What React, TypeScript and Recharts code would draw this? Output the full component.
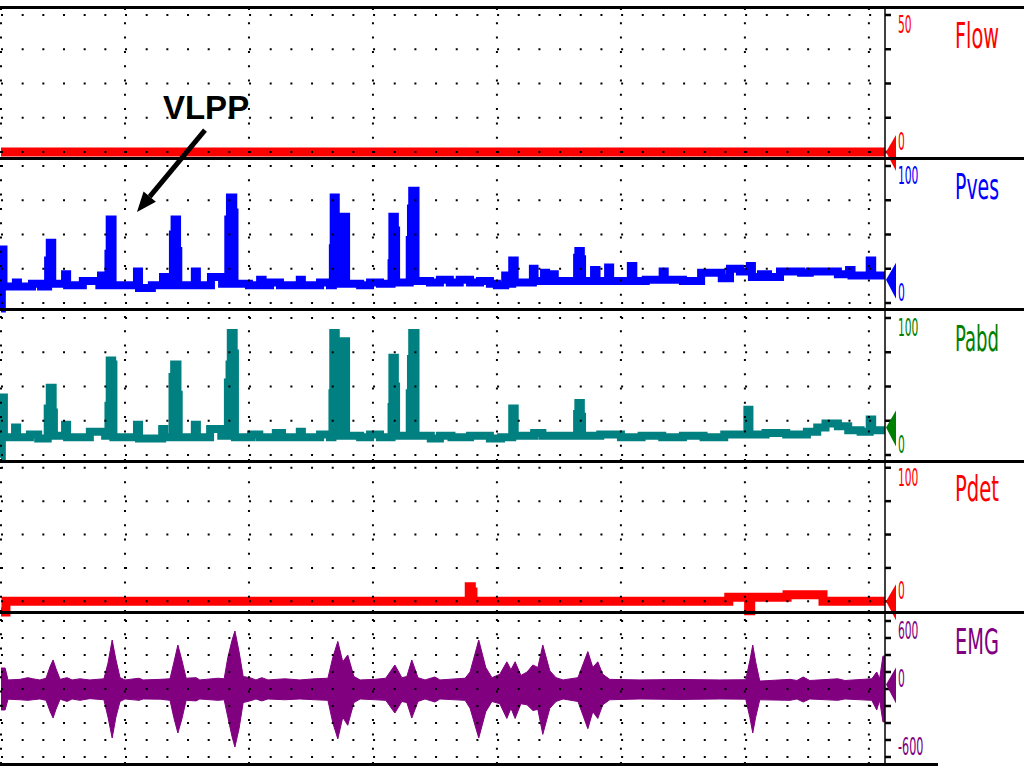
import React from "react";
import {
  ComposedChart,
  Line,
  Area,
  XAxis,
  YAxis,
  CartesianGrid,
  ReferenceLine,
  ReferenceDot,
} from "recharts";

// ---- time axis (seconds) ----
const T_MAX = 213.9;
const MAJOR_TIMES = [0, 30, 60, 90, 120, 150, 180, 210];
const MINOR_TIMES = [
  0, 5, 10, 15, 20, 25, 30, 35, 40, 45, 50, 55, 60, 65, 70, 75, 80, 85, 90, 95, 100,
  105, 110, 115, 120, 125, 130, 135, 140, 145, 150, 155, 160, 165, 170, 175, 180, 185,
  190, 195, 200, 205, 210,
];

// ---- value axes ----
const FLOW_TICKS = [0, 12.5, 25, 37.5, 50];
const PRESSURE_TICKS = [0, 25, 50, 75, 100];
const EMG_TICKS = [-600, -450, -300, -150, 0, 150, 300, 450, 600];
const FLOW_LABELS = [0, 50];
const PRESSURE_LABELS = [0, 100];
const EMG_LABELS = [-600, 0, 600];

// ---- series: [time s, value] ----
const FLOW: [number, number][] = [
  [0, 0],
  [213.9, 0],
];

const PVES: [number, number][] = [
  [0, -4], [0.2, 39], [0.6, 12], [3.6, 15], [4.1, 12], [7.5, 14], [9.7, 12],
  [11.4, 31], [11.8, 44], [12.4, 14], [15.5, 21], [16.0, 13], [19.8, 16], [23.8, 13],
  [24.2, 20], [24.7, 13], [26.0, 36], [26.3, 61], [27.0, 13], [32.9, 23], [33.4, 11],
  [36.5, 13], [39.2, 19], [39.7, 13], [41.6, 50], [42.0, 61], [42.6, 38], [42.9, 13],
  [46.9, 23], [47.4, 13], [50.8, 19], [53.5, 14], [55.0, 61], [55.4, 77], [56.2, 66],
  [56.5, 14], [60, 13], [62.7, 17], [63.3, 13], [65.1, 15], [67.5, 13], [72.3, 17],
  [72.8, 13], [77.2, 15], [79.6, 13], [80.3, 40], [80.5, 77], [81.0, 14], [82.9, 63],
  [83.5, 14], [86.9, 13], [89.3, 15], [91.7, 14], [94.5, 29], [94.7, 63], [95.3, 53],
  [95.6, 15], [98.9, 46], [99.2, 69], [99.5, 82], [100.3, 16], [103.8, 15], [106.2, 17],
  [108.6, 15], [111.0, 17], [113.5, 15], [115.9, 16], [118.3, 14], [120.0, 13],
  [122.0, 20], [122.4, 14], [123.7, 31], [124.3, 15], [128.7, 25], [129.1, 16],
  [131.4, 22], [131.9, 16], [133.5, 21], [134.0, 16], [139.4, 33], [139.7, 38],
  [140.3, 32], [140.6, 16], [143.5, 24], [144.1, 16], [146.9, 26], [147.4, 16],
  [152.4, 27], [153.0, 16], [156, 17], [160.1, 23], [160.6, 17], [165, 16], [169.4, 22],
  [174.4, 18], [176.4, 25], [178.8, 23], [181.2, 27], [181.7, 19], [183.9, 21],
  [185.6, 19], [188.5, 23], [193.6, 22], [195.7, 23], [202.5, 21], [205.2, 24],
  [205.8, 20], [210.2, 31], [210.8, 20], [213.9, 20],
];

const PABD: [number, number][] = [
  [0, -2], [0.2, 42], [0.7, 13], [3.4, 20], [3.9, 13], [7, 15], [9, 12],
  [11.3, 34], [11.8, 49], [12.5, 31], [12.8, 14], [15.5, 22], [16.0, 13], [21.5, 17],
  [25.2, 14], [26.0, 36], [26.3, 69], [26.9, 66], [27.2, 13], [32.9, 22], [33.4, 12],
  [39.0, 19], [39.5, 13], [41.5, 57], [41.9, 66], [42.7, 44], [43.0, 13], [46.9, 22],
  [47.4, 13], [50.6, 19], [53.3, 14], [54.9, 53], [55.3, 66], [55.6, 89], [56.3, 74],
  [56.6, 13], [60.5, 15], [62.5, 13], [66.5, 16], [68, 13], [72.3, 17], [72.8, 13],
  [77.2, 15], [79.6, 13], [80.2, 45], [80.4, 89], [81.0, 14], [82.9, 83], [83.5, 14],
  [86.9, 13], [89.3, 15], [91.7, 13], [94.5, 35], [94.7, 71], [95.3, 50], [95.6, 14],
  [98.9, 45], [99.2, 70], [99.5, 89], [100.3, 14], [104, 12], [106.2, 14], [109, 13],
  [113.5, 14], [118.3, 12], [121, 13], [123.7, 34], [124.3, 14], [129, 16], [131, 14],
  [139.4, 30], [139.7, 38], [140.3, 28], [140.6, 14], [145, 15], [150, 13], [155, 14],
  [160, 13], [165, 14], [170, 13], [175, 15], [180.6, 33], [181.1, 15], [185, 16],
  [190, 15], [195, 17], [197.5, 20], [199.5, 23], [202.5, 21], [205, 18], [208, 17],
  [210.2, 26], [210.8, 18], [213.9, 18],
];

const PDET: [number, number][] = [
  [0, -8], [1.2, 0], [113.3, 11], [113.8, 7], [114.2, 0], [176.1, 3], [180.9, -7],
  [181.4, 3], [190.2, 5], [198.9, 0], [213.9, 0],
];

// EMG envelope: [time s, low, high]
const EMG: [number, number, number][] = [
  [0, -185, 185], [1.0, -185, 185], [1.7, -90, 80], [4.6, -95, 85], [6.5, -100, 100],
  [7.7, -95, 90], [9.4, -88, 80], [10.9, -100, 95], [11.9, -200, 200], [12.6, -256, 256],
  [13.3, -180, 180], [14.3, -90, 85], [16.0, -110, 100], [17.2, -88, 80], [19.1, -100, 90],
  [21.5, -85, 80], [24.9, -95, 90], [25.9, -250, 230], [26.9, -432, 432], [27.8, -250, 260],
  [28.8, -110, 100], [30.0, -88, 80], [33.4, -100, 95], [34.4, -88, 80], [38.5, -90, 85],
  [40.9, -100, 90], [41.8, -250, 230], [42.8, -388, 388], [43.8, -260, 250], [44.8, -100, 95],
  [47.2, -105, 100], [48.1, -88, 80], [52.5, -100, 95], [54.0, -95, 90], [54.9, -250, 280],
  [55.9, -420, 430], [56.6, -512, 512], [57.6, -350, 330], [58.6, -120, 110], [60.2, -105, 100],
  [61.7, -88, 80], [63.1, -105, 100], [64.6, -88, 80], [68.7, -95, 90], [72.3, -88, 80],
  [76.0, -95, 90], [79.1, -100, 95], [80.3, -300, 280], [81.5, -440, 420], [82.7, -250, 240],
  [83.9, -320, 300], [85.4, -120, 110], [86.9, -88, 80], [90.5, -95, 85], [93.1, -100, 95],
  [95.3, -212, 212], [97.0, -110, 100], [98.2, -120, 110], [99.4, -256, 256], [100.9, -110, 100],
  [102.6, -88, 80], [105.0, -115, 106], [106.2, -88, 80], [112.3, -100, 95], [113.5, -170, 150],
  [115.6, -432, 432], [117.3, -200, 190], [118.8, -110, 100], [120.7, -130, 130],
  [122.4, -260, 240], [123.4, -170, 170], [124.4, -260, 240], [125.8, -130, 120],
  [127.3, -140, 150], [128.7, -190, 212], [129.9, -180, 190], [131.1, -400, 388],
  [132.8, -170, 160], [134.3, -110, 100], [136.0, -88, 80], [139.6, -110, 100],
  [142.0, -350, 330], [143.2, -200, 190], [144.4, -260, 240], [145.6, -140, 130],
  [147.3, -95, 85], [154.6, -88, 80], [164.3, -92, 84], [173.9, -88, 80], [180.2, -90, 82],
  [181.2, -250, 250], [181.9, -388, 388], [182.6, -250, 240], [183.6, -95, 70],
  [190.9, -100, 85], [192.6, -88, 75], [194.1, -115, 106], [195.7, -88, 75], [202.5, -100, 90],
  [204.2, -88, 75], [210.7, -100, 90], [211.9, -185, 150], [212.6, -100, 90],
  [213.4, -290, 290], [213.9, -290, 290],
];

// current-value markers on the right axis
const MARKER_FLOW = 0;
const MARKER_PVES = 17;
const MARKER_PABD = 20;
const MARKER_PDET = 0;
const MARKER_EMG = 40;

// VLPP annotation point (time, Pves)
const VLPP_T = 32.9;
const VLPP_V = 66.4;

const NARROW = "'Liberation Sans Narrow', 'DejaVu Sans Condensed', 'Liberation Sans', sans-serif";

const toLine = (arr: [number, number][]) => arr.map(([t, v]) => ({ t, v }));
const toRange = (arr: [number, number, number][]) => arr.map(([t, lo, hi]) => ({ t, r: [lo, hi] }));

function makeTick(ticks: number[], labels: number[], color: string, title: string) {
  const topValue = ticks[ticks.length - 1];
  return (props: any) => {
    const { x, y, payload } = props;
    const v = payload.value;
    const isTop = v === topValue;
    const show = labels.includes(v);
    const str = String(v);
    const len = str.startsWith("-") ? 5 + (str.length - 1) * 6.8 : str.length * 6.8;
    return (
      <g>
        {show && (
          <text
            transform={`translate(${x},${isTop ? y + 18 : y - 2}) scale(1,1.35)`}
            fill={color}
            fontSize={18}
            fontFamily={NARROW}
            textLength={len}
            lengthAdjust="spacingAndGlyphs"
          >
            {str}
          </text>
        )}
        {isTop && (
          <text
            transform={`translate(${x + 57},${y + 33}) scale(1,1.5)`}
            fill={color}
            fontSize={24}
            fontFamily={NARROW}
            textLength={44}
            lengthAdjust="spacingAndGlyphs"
          >
            {title}
          </text>
        )}
      </g>
    );
  };
}

const triangle = (color: string) => (props: any) => {
  const { cx, cy } = props;
  return (
    <polygon
      points={`${cx + 1},${cy} ${cx + 11},${cy - 17} ${cx + 11},${cy + 19}`}
      fill={color}
      stroke="none"
    />
  );
};

const VlppArrow = (props: any) => {
  const { cx, cy } = props;
  const ux = 0.638;
  const uy = -0.77;
  const nx = 0.77;
  const ny = 0.638;
  const bx = cx + 20 * ux;
  const by = cy + 20 * uy;
  return (
    <g>
      <line x1={bx} y1={by} x2={cx + 68} y2={cy - 82} stroke="#000" strokeWidth={5} />
      <polygon
        points={`${cx},${cy} ${bx + 8 * nx},${by + 8 * ny} ${bx - 8 * nx},${by - 8 * ny}`}
        fill="#000"
      />
      <text
        x={cx + 26}
        y={cy - 93}
        fontSize={33}
        fontWeight="bold"
        fontFamily="'Liberation Sans', Arial, sans-serif"
        fill="#000"
      >
        VLPP
      </text>
    </g>
  );
};

type PanelProps = {
  top: number;
  height: number;
  data: any[];
  domain: [number, number];
  ticks: number[];
  labels: number[];
  color: string;
  title: string;
  marker: number;
  markerColor: string;
  topAxis?: boolean;
  children?: React.ReactNode;
};

function Panel(p: PanelProps) {
  return (
    <div style={{ position: "absolute", left: 0, top: p.top }}>
      <ComposedChart
        width={1024}
        height={p.height}
        data={p.data}
        margin={{ top: 0, right: 0, bottom: 0, left: 1 }}
      >
        {p.topAxis ? (
          <XAxis
            type="number"
            dataKey="t"
            domain={[0, T_MAX]}
            orientation="top"
            height={8}
            ticks={MINOR_TIMES}
            interval={0}
            tick={false}
            tickSize={7}
            tickLine={{ stroke: "#000", strokeWidth: 1.5 }}
            axisLine={false}
          />
        ) : (
          <XAxis type="number" dataKey="t" domain={[0, T_MAX]} hide />
        )}
        <YAxis
          type="number"
          orientation="right"
          width={139}
          domain={p.domain}
          ticks={p.ticks}
          interval={0}
          tickSize={6}
          tickMargin={7}
          tickLine={{ stroke: "#000", strokeWidth: 2.5 }}
          axisLine={{ stroke: "#000", strokeWidth: 1.5 }}
          tick={makeTick(p.ticks, p.labels, p.color, p.title)}
        />
        {p.children}
        <CartesianGrid
          vertical={false}
          stroke="#000"
          strokeWidth={2}
          strokeDasharray="2 18.67"
          {...({ zIndex: 1000 } as any)}
        />
        {MAJOR_TIMES.map((t) => (
          <ReferenceLine
            key={t}
            x={t}
            stroke="#000"
            strokeWidth={2}
            strokeDasharray="2 12.3"
            {...({ zIndex: 1000 } as any)}
          />
        ))}
        <ReferenceDot
          x={T_MAX}
          y={p.marker}
          r={1}
          ifOverflow="visible"
          shape={triangle(p.markerColor)}
        />
      </ComposedChart>
    </div>
  );
}

const SEPARATORS = [
  { top: 6, width: 1024 },
  { top: 157, width: 1024 },
  { top: 308, width: 1024 },
  { top: 460, width: 1024 },
  { top: 611, width: 1024 },
  { top: 763, width: 938 },
];

export default function App() {
  return (
    <div
      style={{
        position: "absolute",
        left: 0,
        top: 0,
        width: 1024,
        height: 768,
        background: "#fff",
        overflow: "hidden",
      }}
    >
      <style>{`.recharts-surface{overflow:visible}`}</style>
      <Panel
        top={0}
        height={158}
        data={toLine(FLOW)}
        domain={[-2.19, 52.55]}
        ticks={FLOW_TICKS}
        labels={FLOW_LABELS}
        color="#FF0000"
        title="Flow"
        marker={MARKER_FLOW}
        markerColor="#FF0000"
        topAxis
      >
        <Line
          type="stepAfter"
          dataKey="v"
          stroke="#FF0000"
          strokeWidth={9}
          dot={false}
          isAnimationActive={false}
        />
      </Panel>
      <Panel
        top={158}
        height={152}
        data={toLine(PVES)}
        domain={[-5.11, 105.84]}
        ticks={PRESSURE_TICKS}
        labels={PRESSURE_LABELS}
        color="#0000FF"
        title="Pves"
        marker={MARKER_PVES}
        markerColor="#0000FF"
      >
        <Line
          type="stepAfter"
          dataKey="v"
          stroke="#0000FF"
          strokeWidth={8}
          strokeLinejoin="miter"
          dot={false}
          isAnimationActive={false}
        />
        <ReferenceDot x={VLPP_T} y={VLPP_V} r={1} ifOverflow="visible" shape={VlppArrow} />
      </Panel>
      <Panel
        top={310}
        height={151}
        data={toLine(PABD)}
        domain={[-4.38, 105.84]}
        ticks={PRESSURE_TICKS}
        labels={PRESSURE_LABELS}
        color="#008000"
        title="Pabd"
        marker={MARKER_PABD}
        markerColor="#008000"
      >
        <Line
          type="stepAfter"
          dataKey="v"
          stroke="#008080"
          strokeWidth={8}
          strokeLinejoin="miter"
          dot={false}
          isAnimationActive={false}
        />
      </Panel>
      <Panel
        top={461}
        height={151}
        data={toLine(PDET)}
        domain={[-4.35, 105.07]}
        ticks={PRESSURE_TICKS}
        labels={PRESSURE_LABELS}
        color="#FF0000"
        title="Pdet"
        marker={MARKER_PDET}
        markerColor="#FF0000"
      >
        <Line
          type="stepAfter"
          dataKey="v"
          stroke="#FF0000"
          strokeWidth={9}
          strokeLinejoin="miter"
          dot={false}
          isAnimationActive={false}
        />
      </Panel>
      <Panel
        top={612}
        height={152}
        data={toRange(EMG)}
        domain={[-661.8, 679.4]}
        ticks={EMG_TICKS}
        labels={EMG_LABELS}
        color="#800080"
        title="EMG"
        marker={MARKER_EMG}
        markerColor="#800080"
      >
        <Area
          type="linear"
          dataKey="r"
          stroke="#800080"
          strokeWidth={1}
          fill="#800080"
          fillOpacity={1}
          dot={false}
          isAnimationActive={false}
        />
      </Panel>
      {SEPARATORS.map((s) => (
        <div
          key={s.top}
          style={{
            position: "absolute",
            left: 0,
            top: s.top,
            width: s.width,
            height: 3,
            background: "#000",
          }}
        />
      ))}
    </div>
  );
}
